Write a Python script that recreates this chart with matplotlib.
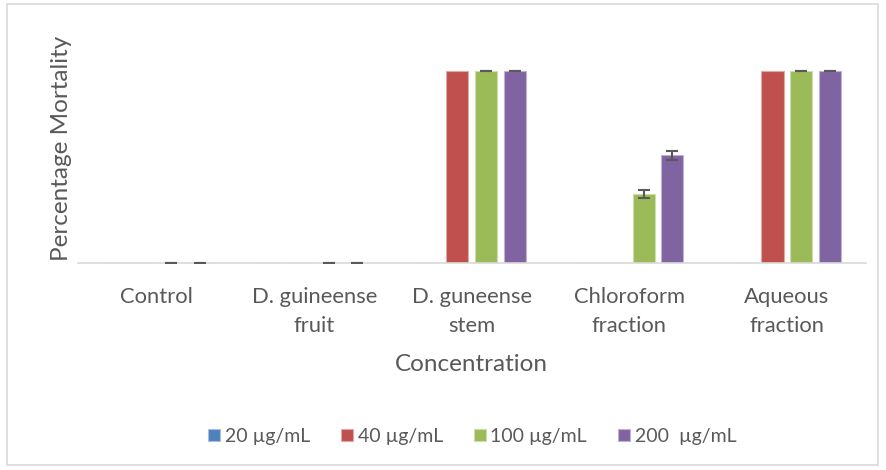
import numpy as np
import matplotlib.pyplot as plt
from matplotlib.patches import Rectangle

categories = ['Control', 'D. guineense\nfruit', 'D. guneense\nstem',
              'Chloroform\nfraction', 'Aqueous\nfraction']
series_names = ['20 µg/mL', '40 µg/mL', '100 µg/mL', '200  µg/mL']
mort_20 = [0, 0, 0, 0, 0]
mort_40 = [0, 0, 100, 0, 100]
mort_100 = [0, 0, 100, 36, 100]
mort_200 = [0, 0, 100, 56.3, 100]
err_100 = [0, 0, 0, 2.0, 0]
err_200 = [0, 0, 0, 2.4, 0]

colors = ['#4F81BD', '#C0504D', '#9BBB59', '#8064A2']
edges = ['#A7C0DE', '#E0A8A6', '#CDDDAC', '#BFB1D0']
grey = '#595959'

plt.rcParams['font.family'] = ['Lato', 'DejaVu Sans']

fig = plt.figure(figsize=(8.86, 4.70), dpi=100)
ax = fig.add_axes([0.088, 0.44, 0.889, 0.49])

x = np.arange(len(categories))
step = 0.182
width = 0.14
values = [mort_20, mort_40, mort_100, mort_200]
errs = [None, None, err_100, err_200]
for i, (vals, name) in enumerate(zip(values, series_names)):
    pos = x + (i - 1.5) * step
    ax.bar(pos, vals, width, color=colors[i], edgecolor=edges[i],
           linewidth=0.8, label=name, zorder=2)
    if errs[i] is not None:
        ax.errorbar(pos, vals, yerr=errs[i], fmt='none', ecolor=grey,
                    elinewidth=1.5, capsize=4.3, capthick=1.5, zorder=3)

ax.set_xlim(-0.5, len(categories) - 0.5)
ax.set_ylim(0, 120)
ax.set_yticks([])
ax.set_xticks(x)
ax.set_xticklabels(categories, fontsize=15.8, color=grey, linespacing=1.55)
ax.tick_params(axis='x', length=0, pad=17)
for s in ['top', 'right', 'left']:
    ax.spines[s].set_visible(False)
ax.spines['bottom'].set_color('#D9D9D9')
ax.spines['bottom'].set_linewidth(1.2)
ax.set_xlabel('Concentration', fontsize=17.5, color=grey, labelpad=13)
ax.set_ylabel('Percentage Mortality', fontsize=17.5, color=grey, labelpad=4)

fig.legend(loc='center', bbox_to_anchor=(0.533, 0.072), ncol=4,
           frameon=False, fontsize=14, handlelength=0.6, handleheight=0.6,
           handletextpad=0.25, columnspacing=1.6, labelcolor=grey)

fig.patches.append(Rectangle((0.008, 0.01), 0.983, 0.982, transform=fig.transFigure,
                             fill=False, edgecolor='#D9D9D9', linewidth=1.2))

fig.savefig('out.png', dpi=100)
